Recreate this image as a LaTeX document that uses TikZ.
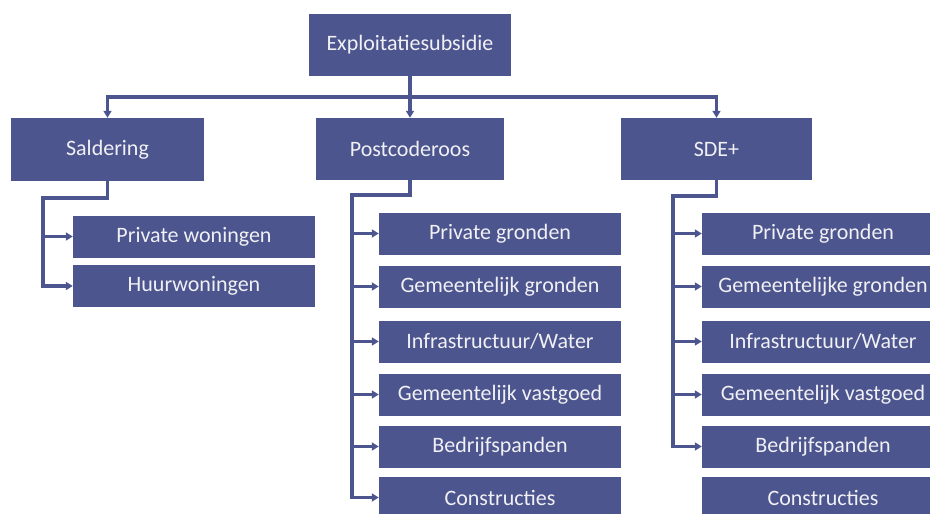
\documentclass[tikz,border=0pt]{standalone}
\usepackage{fontspec}
\setmainfont{Carlito}
\usetikzlibrary{arrows.meta}
\definecolor{boxblue}{RGB}{76,85,142}
\definecolor{boxtext}{RGB}{240,240,245}
\begin{document}
\begin{tikzpicture}[x=1pt,y=-1pt,
  box/.style={draw=none,fill=boxblue,text=boxtext,inner sep=0pt,
    font=\fontsize{22}{26}\selectfont,anchor=center},
  parentbox/.style={box,minimum height=62pt},
  childbox/.style={box,minimum width=242pt,minimum height=42pt},
  conn/.style={draw=boxblue,line width=3.2pt},
  arr/.style={conn,-{Triangle[length=7pt,width=8pt]}}]
\useasboundingbox (0,0) rectangle (930,514);
\clip (0,0) rectangle (930,514);

% top level
\node[parentbox,minimum width=202pt] (top) at (410,45) {Exploitatiesubsidie};

% second level
\node[parentbox,minimum width=193pt,minimum height=63pt] (sal) at (107.5,149.5) {Saldering};
\node[parentbox,minimum width=188pt] (pc) at (410,149) {Postcoderoos};
\node[parentbox,minimum width=191pt] (sde) at (716.5,149) {SDE+};

% bus below the top box
\coordinate (bus) at (0,97);
\draw[arr] (top.south) -- (top.south |- bus) -| (sal.north);
\draw[arr] (top.south) -- (pc.north);
\draw[arr] (top.south) -- (top.south |- bus) -| (sde.north);

% Saldering children
\node[childbox] (pw) at (194,236.5) {Private woningen};
\node[childbox] (hw) at (194,286) {Huurwoningen};
\coordinate (salbend) at (43,198);
\draw[arr] (sal.south) |- (salbend) |- (hw.west);
\draw[arr] (salbend |- pw.west) -- (pw.west);

% Postcoderoos children
\node[childbox] (pc1) at (500,233.5) {Private gronden};
\node[childbox] (pc2) at (500,286.5) {Gemeentelijk gronden};
\node[childbox] (pc3) at (500,341.5) {Infrastructuur/Water};
\node[childbox] (pc4) at (500,394.5) {Gemeentelijk vastgoed};
\node[childbox] (pc5) at (500,446.5) {Bedrijfspanden};
\node[childbox] (pc6) at (500,497.5) {Constructies};
\coordinate (pcbend) at (352,195);
\draw[arr] (pc.south) |- (pcbend) |- (pc6.west);
\foreach \c in {pc1,pc2,pc3,pc4,pc5}
  \draw[arr] (pcbend |- \c.west) -- (\c.west);

% SDE+ children
\node[childbox] (sd1) at (823,233.5) {Private gronden};
\node[childbox] (sd2) at (823,286.5) {Gemeentelijke gronden};
\node[childbox] (sd3) at (823,341.5) {Infrastructuur/Water};
\node[childbox] (sd4) at (823,394.5) {Gemeentelijk vastgoed};
\node[childbox] (sd5) at (823,446.5) {Bedrijfspanden};
\node[childbox] (sd6) at (823,497.5) {Constructies};
\coordinate (sdbend) at (673,196);
\draw[arr] (sde.south) |- (sdbend) |- (sd5.west);
\foreach \c in {sd1,sd2,sd3,sd4}
  \draw[arr] (sdbend |- \c.west) -- (\c.west);
\end{tikzpicture}
\end{document}
